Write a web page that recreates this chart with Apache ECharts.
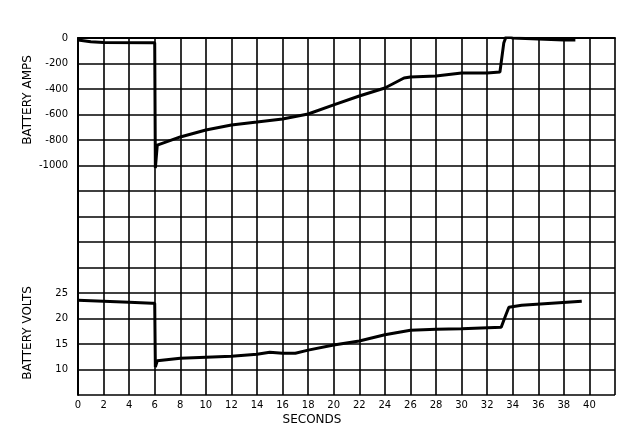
<!DOCTYPE html>
<html><head><meta charset="utf-8">
<script src="https://cdn.jsdelivr.net/npm/echarts@6/dist/echarts.min.js"></script>
<style>html,body{margin:0;padding:0;background:#fff}#c{width:640px;height:443px}</style>
</head><body><div id="c"></div>
<script>
// Battery current (amps) vs time (seconds)
const ampTimes  = [0, 1, 2, 5.8, 6.0, 6.05, 6.2, 8, 10, 12, 14, 16, 18, 20, 22, 24, 25.5, 26, 28, 30, 32, 33.0, 33.3, 33.5, 34, 36, 38, 38.9];
const ampValues = [-15, -30, -35, -38, -38, -1020, -840, -776, -722, -682, -659, -635, -596, -525, -455, -392, -314, -306, -298, -275, -275, -267, -40, 15, 0, -8, -15, -15];
// Battery voltage vs time (seconds)
const voltTimes  = [0, 4, 5.8, 6.0, 6.05, 6.2, 8, 10, 12, 14, 15, 16, 17, 18, 20, 22, 24, 26, 28, 30, 33.1, 33.4, 33.7, 34.7, 39.4];
const voltValues = [23.6, 23.2, 23.0, 23.0, 10.5, 11.7, 12.2, 12.4, 12.6, 13.0, 13.4, 13.2, 13.2, 13.8, 14.8, 15.6, 16.8, 17.7, 17.9, 18.0, 18.3, 20.3, 22.2, 22.6, 23.4];
const ampLabels  = [0, -200, -400, -600, -800, -1000];
const voltLabels = [10, 15, 20, 25];
const xLabels    = [0,2,4,6,8,10,12,14,16,18,20,22,24,26,28,30,32,34,36,38,40];

const font = 'DejaVu Sans';
const chart = echarts.init(document.getElementById('c'));
chart.setOption({
  animation: false,
  backgroundColor: '#fff',
  grid: {left: 78, top: 38, right: 25, bottom: 48},
  xAxis: {
    type: 'value', min: 0, max: 42, interval: 2,
    axisLine: {show: true, lineStyle: {color: '#000', width: 2}},
    axisTick: {show: false},
    splitLine: {show: true, lineStyle: {color: '#000', width: 1.6}},
    axisLabel: {color: '#000', fontFamily: font, fontSize: 10, margin: 5,
      formatter: v => xLabels.includes(v) ? String(v) : ''}
  },
  yAxis: [{
    type: 'value', min: -2800, max: 0, interval: 200, position: 'left',
    axisLine: {show: true, lineStyle: {color: '#000', width: 2}},
    axisTick: {show: false},
    splitLine: {show: true, lineStyle: {color: '#000', width: 1.6}},
    axisLabel: {color: '#000', fontFamily: font, fontSize: 10, margin: 10,
      formatter: v => ampLabels.includes(v) ? String(v) : ''}
  }, {
    type: 'value', min: 5, max: 75, interval: 5, position: 'left', offset: 0,
    axisLine: {show: false}, axisTick: {show: false}, splitLine: {show: false},
    axisLabel: {color: '#000', fontFamily: font, fontSize: 10, margin: 10,
      formatter: v => voltLabels.includes(v) ? String(v) : ''}
  }],
  series: [{
    type: 'line', yAxisIndex: 0, showSymbol: false,
    lineStyle: {color: '#000', width: 3},
    data: ampTimes.map((t, i) => [t, ampValues[i]])
  }, {
    type: 'line', yAxisIndex: 1, showSymbol: false,
    lineStyle: {color: '#000', width: 3},
    data: voltTimes.map((t, i) => [t, voltValues[i]])
  }],
  graphic: [
    {type: 'text', x: 28, y: 100, rotation: Math.PI / 2,
      style: {text: 'BATTERY AMPS', fill: '#000', font: '12px ' + font, textAlign: 'center', textVerticalAlign: 'middle'}},
    {type: 'text', x: 28, y: 333, rotation: Math.PI / 2,
      style: {text: 'BATTERY VOLTS', fill: '#000', font: '12px ' + font, textAlign: 'center', textVerticalAlign: 'middle'}},
    {type: 'text', x: 312, y: 420,
      style: {text: 'SECONDS', fill: '#000', font: '12px ' + font, textAlign: 'center', textVerticalAlign: 'middle'}}
  ]
});
</script></body></html>
